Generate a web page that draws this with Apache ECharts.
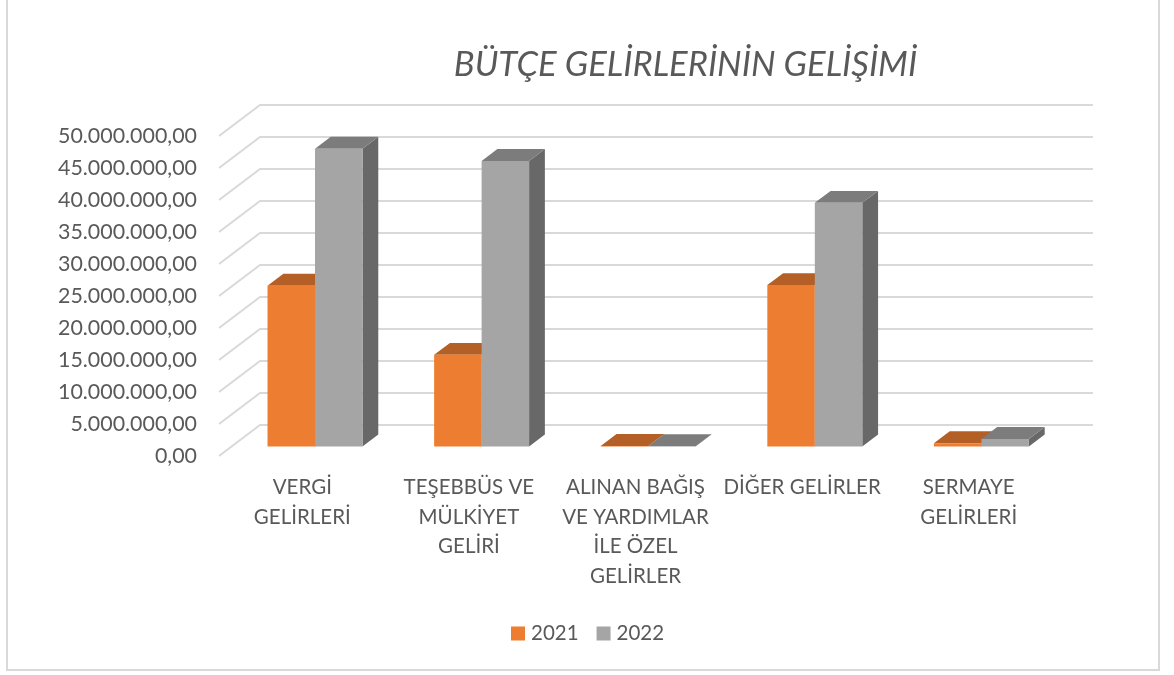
<!DOCTYPE html>
<html>
<head>
<meta charset="utf-8">
<style>
  html, body { margin: 0; padding: 0; background: #fff; }
  #chart { width: 1174px; height: 675px; }
</style>
<script src="https://cdn.jsdelivr.net/npm/echarts@6/dist/echarts.min.js"></script>
</head>
<body>
<div id="chart"></div>
<script>
var categories = [
  'VERGİ\nGELİRLERİ',
  'TEŞEBBÜS VE\nMÜLKİYET\nGELİRİ',
  'ALINAN BAĞIŞ\nVE YARDIMLAR\nİLE ÖZEL\nGELİRLER',
  'DİĞER GELİRLER',
  'SERMAYE\nGELİRLERİ'
]
var values2021 = [25100000, 14300000, 60000, 25200000, 500000]
var values2022 = [46500000, 44600000, 30000, 38050000, 1150000]
var wallTicks = [0, 5000000, 10000000, 15000000, 20000000, 25000000, 30000000, 35000000, 40000000, 45000000, 50000000]

// fake 3d: full depth of the chart box, in px
var DEPTH_X = 41
var DEPTH_Y = -31
// bars sit between these depth fractions
var BAR_NEAR = 0.31
var BAR_FAR = 0.695
var BAR_BAND = 0.285 // one bar's width as a part of the category band
var FONT = 'Lato, "Open Sans", sans-serif'
var TEXT = '#595959'

function shift(p, d) {
  return [p[0] + DEPTH_X * d, p[1] + DEPTH_Y * d]
}

function poly(points, fill) {
  return { type: 'polygon', shape: { points: points }, style: { fill: fill } }
}

function barRenderer(side, topColor, sideColor) {
  return function(params, api) {
    var band = api.size([1, 0])[0]
    var w = band * BAR_BAND
    var base = api.coord([api.value(0), 0])
    var top = api.coord([api.value(0), api.value(1)])
    var x0 = base[0] + (side < 0 ? -w : 0)
    var x1 = x0 + w
    var fl = shift([x0, top[1]], BAR_NEAR)
    var fr = shift([x1, top[1]], BAR_NEAR)
    var bl = shift([x0, base[1]], BAR_NEAR)
    var br = shift([x1, base[1]], BAR_NEAR)
    return {
      type: 'group',
      children: [
        poly([fr, shift([x1, top[1]], BAR_FAR), shift([x1, base[1]], BAR_FAR), br], sideColor),
        poly([fl, shift([x0, top[1]], BAR_FAR), shift([x1, top[1]], BAR_FAR), fr], topColor),
        poly([fl, fr, br, bl], api.visual('color'))
      ]
    }
  }
}

function wallRenderer(params, api) {
  var y = api.value(0)
  var left = api.coord([0, y])
  var right = api.coord([categories.length - 1, y])
  var band = api.size([1, 0])[0]
  var a = [left[0] - band / 2, left[1]]
  var b = shift(a, 1)
  var c = shift([right[0] + band / 2, right[1]], 1)
  return {
    type: 'polyline',
    shape: { points: [a, b, c] },
    style: { fill: null, stroke: '#d9d9d9', lineWidth: 2 }
  }
}

var chart = echarts.init(document.getElementById('chart'))
chart.setOption({
  animation: false,
  title: {
    text: 'BÜTÇE GELİRLERİNİN GELİŞİMİ',
    left: 680.5,
    top: 42,
    textAlign: 'center',
    textStyle: { fontFamily: FONT, fontStyle: 'italic', fontWeight: 'normal', fontSize: 34.6, color: TEXT }
  },
  legend: {
    data: ['2021', '2022'],
    left: 506,
    top: 618,
    itemWidth: 14,
    itemHeight: 14,
    itemGap: 18,
    icon: 'rect',
    textStyle: { fontFamily: FONT, fontSize: 20.5, color: TEXT, padding: [0, 0, 0, 1] }
  },
  grid: { left: 219, top: 136, width: 833, height: 320 },
  xAxis: {
    type: 'category',
    data: categories,
    axisLine: { show: false },
    axisTick: { show: false },
    axisLabel: {
      interval: 0,
      margin: 17,
      fontFamily: FONT,
      fontSize: 20.5,
      lineHeight: 29.5,
      color: TEXT
    }
  },
  yAxis: {
    type: 'value',
    min: 0,
    max: 50000000,
    interval: 5000000,
    splitLine: { show: false },
    axisLine: { show: false },
    axisTick: { show: false },
    axisLabel: {
      margin: 22,
      padding: [2, 0, 0, 0],
      fontFamily: FONT,
      fontSize: 21.4,
      color: TEXT,
      formatter: function(v) {
        return v.toLocaleString('tr-TR', { minimumFractionDigits: 2, maximumFractionDigits: 2 })
      }
    }
  },
  series: [
    {
      type: 'custom',
      silent: true,
      z: 1,
      encode: { y: 0 },
      data: wallTicks,
      renderItem: wallRenderer
    },
    {
      name: '2021',
      type: 'custom',
      z: 2,
      itemStyle: { color: '#ed7d31' },
      encode: { x: 0, y: 1 },
      data: values2021.map(function(v, i) { return [i, v] }),
      renderItem: barRenderer(-1, '#b45f25', '#8f4b1d')
    },
    {
      name: '2022',
      type: 'custom',
      z: 3,
      itemStyle: { color: '#a5a5a5' },
      encode: { x: 0, y: 1 },
      data: values2022.map(function(v, i) { return [i, v] }),
      renderItem: barRenderer(1, '#7c7c7c', '#686868')
    }
  ],
  graphic: [{
    type: 'rect',
    silent: true,
    shape: { x: 7, y: -3, width: 1152, height: 673 },
    style: { fill: null, stroke: '#d9d9d9', lineWidth: 2 }
  }]
})
</script>
</body>
</html>
